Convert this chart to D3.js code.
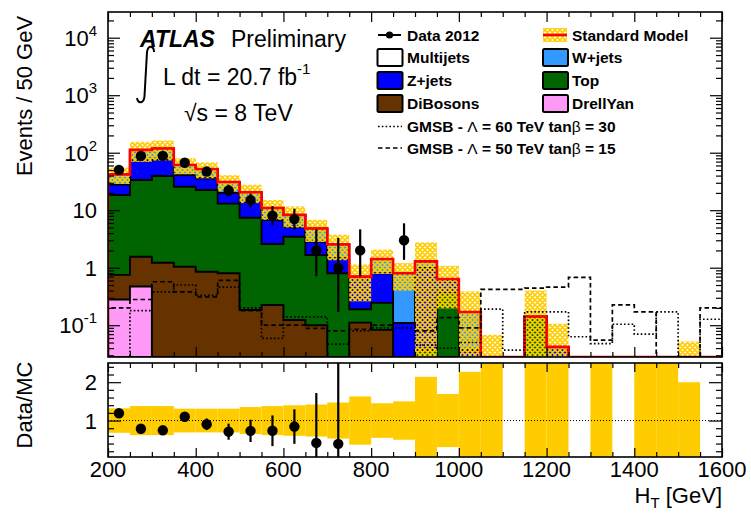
<!DOCTYPE html>
<html>
<head>
<meta charset="utf-8">
<script src="https://cdn.jsdelivr.net/npm/d3@7"></script>
<style>
  html, body { margin: 0; padding: 0; background: #fff; }
  svg { display: block; font-family: "Liberation Sans", Arial, Helvetica, sans-serif; }
</style>
</head>
<body>
<svg id="chart" width="751" height="513"></svg>
<script>
// H_T distribution, 50 GeV bins from 200 to 1600 GeV
const binLow = [200, 250, 300, 350, 400, 450, 500, 550, 600, 650, 700, 750, 800, 850,
                900, 950, 1000, 1050, 1100, 1150, 1200, 1250, 1300, 1350, 1400, 1450, 1500, 1550];
const binWidth = 50;

// Background processes (events per bin), stacked bottom to top
const drellYan  = [0.28, 0.47, 0, 0, 0, 0, 0, 0, 0, 0, 0, 0, 0, 0, 0, 0, 0, 0, 0, 0, 0, 0, 0, 0, 0, 0, 0, 0];
const diBosons  = [0.47, 1.08, 1.22, 1.04, 0.85, 0.80, 0.184, 0.225, 0.123, 0.10, 0, 0.111, 0.083, 0,
                   0, 0, 0, 0, 0, 0, 0, 0, 0, 0, 0, 0, 0, 0];
const topQuark  = [17.65, 31.95, 38.2, 24.56, 21.65, 12.2, 7.22, 2.355, 3.34, 1.56, 0.8, 0.079, 0.162, 0,
                   0.037, 0.36, 0, 0, 0, 0.142, 0, 0, 0, 0, 0, 0, 0, 0];
const zJets     = [9.6, 40.5, 36.6, 15.4, 13.5, 7.0, 6.7, 4.17, 1.74, 1.17, 0.66, 0.51, 0.555, 0.11,
                   0.953, 0.276, 0.037, 0, 0, 0, 0.042, 0, 0, 0, 0, 0, 0, 0];
const wJets     = [14, 38, 42, 20, 16, 11, 6.4, 4.15, 3.1, 1.97, 1.09, 0, 0.62, 0.69,
                   0.3, 0, 0.133, 0.02, 0, 0, 0, 0, 0.005, 0, 0.005, 0.005, 0.026, 0];
const multijets = [0, 0, 0, 0, 0, 0, 0, 0, 0, 0, 0, 0, 0, 0, 0, 0, 0, 0, 0, 0, 0, 0, 0, 0, 0, 0, 0, 0];

// Total SM uncertainty (absolute, events per bin)
const smErr = [13.4, 42.6, 44.8, 18.9, 16.1, 9.6, 7.2, 4.1, 3.3, 2.0, 1.2, 0.44, 0.64, 0.4,
               1.47, 0.44, 0.216, 0.048, 0, 0.26, 0.064, 0, 0.01, 0, 0.01, 0.01, 0.026, 0];

// Data 2012 with asymmetric Poisson errors
const data        = [50, 88, 88, 67, 47, 22, 15, 8, 7, 2, 1, 2, 0, 3, 0, 0, 0, 0, 0, 0, 0, 0, 0, 0, 0, 0, 0, 0];
const dataErrDown = [7.0, 9.3, 9.3, 8.2, 6.8, 4.6, 3.8, 2.6, 2.4, 1.29, 0.83, 1.29, 0, 1.63, 0, 0, 0, 0, 0, 0, 0, 0, 0, 0, 0, 0, 0, 0];
const dataErrUp   = [8.1, 10.4, 10.4, 9.2, 7.9, 5.7, 4.4, 3.8, 3.6, 2.64, 2.30, 2.64, 0, 2.92, 0, 0, 0, 0, 0, 0, 0, 0, 0, 0, 0, 0, 0, 0];
// Data/MC uncertainty in the ratio panel
const ratioErr    = [0.05, 0.05, 0.05, 0.07, 0.15, 0.21, 0.29, 0.40, 0.45, 1.30, 2.20, 0, 0, 0, 0, 0, 0, 0, 0, 0, 0, 0, 0, 0, 0, 0, 0, 0];

// GMSB signal points (not stacked)
const gmsb60 = [0, 0.18, 0.38, 0.50, 0.33, 0.46, 0.20, 0.059, 0.14, 0.14, 0.047, 0.08, 0.09, 0.09,
                0.045, 0.04, 0.05, 0.19, 0.037, 0.17, 0.17, 0.063, 0.048, 0.104, 0.07, 0.17, 0, 0.127];
const gmsb50 = [0.20, 0.28, 0.57, 0.38, 0.31, 0.60, 0.18, 0.10, 0.10, 0.088, 0.08, 0.085, 0.10, 0.11,
                0.08, 0.135, 0.09, 0.42, 0.42, 0.44, 0.46, 0.68, 0.055, 0.225, 0.17, 0, 0, 0.20];

const yMajorTicks = [0.1, 1, 10, 100, 1000, 10000];
const xTickLabels = [200, 400, 600, 800, 1000, 1200, 1400, 1600];
const ratioTickLabels = [1, 2];

// ---------------------------------------------------------------------------
const svg = d3.select("#chart");
const FONT = '"Liberation Sans", Arial, Helvetica, sans-serif';
const C = {
  dy: "#ff99f7", db: "#663300", top: "#006400", z: "#0000ff", w: "#3399ff", mj: "#ffffff",
  band: "#ffcc00", sm: "#ff0000"
};

const xMin = 200, xMax = 1600;
const yMin = 0.028, yMax = 28000;
const x  = d3.scaleLinear().domain([xMin, xMax]).range([108, 722]);
const y  = d3.scaleLog().domain([yMin, yMax]).range([357, 12]);
const rMin = 0.05, rMax = 2.5;
const yr = d3.scaleLinear().domain([rMin, rMax]).range([457, 363]);

const yc = v => y(Math.min(Math.max(v, yMin), yMax));
const n = binLow.length;
const MARKER_R = 5.2;

// cumulative stack sums
const layers = [drellYan, diBosons, topQuark, zJets, wJets, multijets];
const layerColors = [C.dy, C.db, C.top, C.z, C.w, C.mj];
const cum = [];
layers.forEach((arr, k) => {
  cum.push(arr.map((v, i) => v + (k > 0 ? cum[k - 1][i] : 0)));
});
const sm = cum[cum.length - 1];

function stepPath(vals, closeBase) {
  const base = y.range()[0];
  let d = `M${x(binLow[0])},${base}`;
  vals.forEach((v, i) => {
    const yy = yc(v);
    d += `L${x(binLow[i])},${yy}L${x(binLow[i] + binWidth)},${yy}`;
  });
  d += `L${x(binLow[n - 1] + binWidth)},${base}`;
  if (closeBase) d += "Z";
  return d;
}

const defs = svg.append("defs");
const pat = defs.append("pattern").attr("id", "hatch").attr("patternUnits", "userSpaceOnUse")
  .attr("width", 5).attr("height", 5);
pat.append("path").attr("d", "M0,0L5,5M5,0L0,5M-1,1L1,-1M4,6L6,4M-1,4L1,6M4,-1L6,1")
  .attr("stroke", C.band).attr("stroke-width", 1.7).attr("fill", "none");
defs.append("clipPath").attr("id", "clipMain").append("rect")
  .attr("x", 108).attr("y", 12).attr("width", 614).attr("height", 345);
defs.append("clipPath").attr("id", "clipRatio").append("rect")
  .attr("x", 108).attr("y", 363).attr("width", 614).attr("height", 94);

// ---------------- main panel ----------------
const gMain = svg.append("g").attr("clip-path", "url(#clipMain)");

for (let k = cum.length - 1; k >= 0; k--) {
  gMain.append("path").attr("d", stepPath(cum[k], true))
    .attr("fill", layerColors[k]).attr("stroke", "#000").attr("stroke-width", 1.9)
    .attr("stroke-linejoin", "miter");
}

// uncertainty band
gMain.append("g").selectAll("rect").data(binLow.map((b, i) => i).filter(i => smErr[i] > 0))
  .join("rect")
  .attr("x", i => x(binLow[i])).attr("width", i => x(binLow[i] + binWidth) - x(binLow[i]))
  .attr("y", i => yc(sm[i] + smErr[i]))
  .attr("height", i => yc(sm[i] - smErr[i]) - yc(sm[i] + smErr[i]))
  .attr("fill", "url(#hatch)");

// SM total
gMain.append("path").attr("d", stepPath(sm, false))
  .attr("fill", "none").attr("stroke", C.sm).attr("stroke-width", 2.6);

// signals
gMain.append("path").attr("d", stepPath(gmsb60, false))
  .attr("fill", "none").attr("stroke", "#000").attr("stroke-width", 1.7).attr("stroke-dasharray", "1.6,2.2");
gMain.append("path").attr("d", stepPath(gmsb50, false))
  .attr("fill", "none").attr("stroke", "#000").attr("stroke-width", 1.7).attr("stroke-dasharray", "4.5,3");

// data
const dataIdx = binLow.map((b, i) => i).filter(i => data[i] > 0);
const gData = gMain.append("g");
gData.selectAll("line").data(dataIdx).join("line")
  .attr("x1", i => x(binLow[i] + binWidth / 2)).attr("x2", i => x(binLow[i] + binWidth / 2))
  .attr("y1", i => yc(data[i] + dataErrUp[i])).attr("y2", i => yc(data[i] - dataErrDown[i]))
  .attr("stroke", "#000").attr("stroke-width", 2.2);
gData.selectAll("circle").data(dataIdx).join("circle")
  .attr("cx", i => x(binLow[i] + binWidth / 2)).attr("cy", i => yc(data[i]))
  .attr("r", MARKER_R).attr("fill", "#000");

// ---------------- ratio panel ----------------
const gRatio = svg.append("g").attr("clip-path", "url(#clipRatio)");
const rc = v => yr(Math.min(Math.max(v, rMin), rMax));
gRatio.append("g").selectAll("rect").data(binLow.map((b, i) => i).filter(i => sm[i] > 0 && smErr[i] > 0))
  .join("rect")
  .attr("x", i => x(binLow[i])).attr("width", i => x(binLow[i] + binWidth) - x(binLow[i]))
  .attr("y", i => rc(1 + smErr[i] / sm[i]))
  .attr("height", i => rc(1 - smErr[i] / sm[i]) - rc(1 + smErr[i] / sm[i]))
  .attr("fill", C.band);
gRatio.append("line").attr("x1", 108).attr("x2", 722).attr("y1", yr(1)).attr("y2", yr(1))
  .attr("stroke", "#000").attr("stroke-width", 1).attr("stroke-dasharray", "1,2");

const ratioIdx = dataIdx.filter(i => sm[i] > 0 && data[i] / sm[i] <= rMax && data[i] / sm[i] >= rMin);
gRatio.selectAll("line.err").data(ratioIdx).join("line").attr("class", "err")
  .attr("x1", i => x(binLow[i] + binWidth / 2)).attr("x2", i => x(binLow[i] + binWidth / 2))
  .attr("y1", i => rc(data[i] / sm[i] + ratioErr[i])).attr("y2", i => rc(data[i] / sm[i] - ratioErr[i]))
  .attr("stroke", "#000").attr("stroke-width", 2.2);
gRatio.selectAll("circle").data(ratioIdx).join("circle")
  .attr("cx", i => x(binLow[i] + binWidth / 2)).attr("cy", i => yr(data[i] / sm[i]))
  .attr("r", MARKER_R).attr("fill", "#000");

// ---------------- axes & frames ----------------
const logMinor = [];
for (let e = -2; e <= 4; e++) for (let k = 2; k <= 9; k++) {
  const v = k * Math.pow(10, e);
  if (v > yMin && v < yMax) logMinor.push(v);
}
const xMinor = d3.range(xMin, xMax + 1, 50).filter(v => xTickLabels.indexOf(v) < 0);
const rMinor = d3.range(0.2, 2.45, 0.2).filter(v => Math.abs(v - 1) > 0.01 && Math.abs(v - 2) > 0.01);

function ticks(g, axis) {
  g.call(axis.tickFormat("").tickSizeOuter(0));
  g.select(".domain").remove();
  g.selectAll("line").attr("stroke", "#000").attr("stroke-width", 1.2);
}
// main panel
ticks(svg.append("g").attr("transform", "translate(108,0)"), d3.axisLeft(y).tickValues(yMajorTicks).tickSize(-12));
ticks(svg.append("g").attr("transform", "translate(108,0)"), d3.axisLeft(y).tickValues(logMinor).tickSize(-6));
ticks(svg.append("g").attr("transform", "translate(722,0)"), d3.axisRight(y).tickValues(yMajorTicks).tickSize(-12));
ticks(svg.append("g").attr("transform", "translate(722,0)"), d3.axisRight(y).tickValues(logMinor).tickSize(-6));
ticks(svg.append("g").attr("transform", "translate(0,357)"), d3.axisBottom(x).tickValues(xTickLabels).tickSize(-10));
ticks(svg.append("g").attr("transform", "translate(0,357)"), d3.axisBottom(x).tickValues(xMinor).tickSize(-5));
ticks(svg.append("g").attr("transform", "translate(0,12)"), d3.axisTop(x).tickValues(xTickLabels).tickSize(-10));
ticks(svg.append("g").attr("transform", "translate(0,12)"), d3.axisTop(x).tickValues(xMinor).tickSize(-5));
// ratio panel
ticks(svg.append("g").attr("transform", "translate(108,0)"), d3.axisLeft(yr).tickValues(ratioTickLabels).tickSize(-13));
ticks(svg.append("g").attr("transform", "translate(108,0)"), d3.axisLeft(yr).tickValues(rMinor).tickSize(-6));
ticks(svg.append("g").attr("transform", "translate(722,0)"), d3.axisRight(yr).tickValues(ratioTickLabels).tickSize(-13));
ticks(svg.append("g").attr("transform", "translate(722,0)"), d3.axisRight(yr).tickValues(rMinor).tickSize(-6));
ticks(svg.append("g").attr("transform", "translate(0,457)"), d3.axisBottom(x).tickValues(xTickLabels).tickSize(-9));
ticks(svg.append("g").attr("transform", "translate(0,457)"), d3.axisBottom(x).tickValues(xMinor).tickSize(-5));
ticks(svg.append("g").attr("transform", "translate(0,363)"), d3.axisTop(x).tickValues(xTickLabels).tickSize(-9));
ticks(svg.append("g").attr("transform", "translate(0,363)"), d3.axisTop(x).tickValues(xMinor).tickSize(-5));

svg.append("rect").attr("x", 108).attr("y", 12).attr("width", 614).attr("height", 345)
  .attr("fill", "none").attr("stroke", "#000").attr("stroke-width", 1.6);
svg.append("rect").attr("x", 108).attr("y", 363).attr("width", 614).attr("height", 94)
  .attr("fill", "none").attr("stroke", "#000").attr("stroke-width", 1.6);

// tick labels
const lab = svg.append("g").attr("font-family", FONT).attr("fill", "#000");
yMajorTicks.forEach(v => {
  const e = Math.round(Math.log10(v));
  const t = lab.append("text").attr("x", 97).attr("y", y(v) + 8).attr("text-anchor", "end").attr("font-size", 22);
  if (e === 0) t.text("1");
  else if (e === 1) t.text("10");
  else {
    t.append("tspan").text("10");
    t.append("tspan").attr("font-size", 15).attr("dy", -10).text(String(e));
  }
});
ratioTickLabels.forEach(v => {
  lab.append("text").attr("x", 97).attr("y", yr(v) + 8).attr("text-anchor", "end")
    .attr("font-size", 22).text(String(v));
});
xTickLabels.forEach(v => {
  lab.append("text").attr("x", x(v)).attr("y", 477).attr("text-anchor", "middle")
    .attr("font-size", 22).text(String(v));
});

// axis titles
const ht = lab.append("text").attr("x", 722).attr("y", 503).attr("text-anchor", "end").attr("font-size", 22);
ht.append("tspan").text("H");
ht.append("tspan").attr("font-size", 15).attr("dy", 5).text("T");
ht.append("tspan").attr("dy", -5).text(" [GeV]");
lab.append("text").attr("transform", "translate(32,96) rotate(-90)").attr("text-anchor", "middle")
  .attr("font-size", 22).text("Events / 50 GeV");
lab.append("text").attr("transform", "translate(32,405) rotate(-90)").attr("text-anchor", "middle")
  .attr("font-size", 22).text("Data/MC");

// ATLAS label block
lab.append("text").attr("x", 140).attr("y", 47).attr("font-size", 23)
  .attr("font-weight", "bold").attr("font-style", "italic").text("ATLAS");
lab.append("text").attr("x", 231).attr("y", 47).attr("font-size", 23).text("Preliminary");
svg.append("path").attr("d", "M154,52 C154,46 148,44 147,52 L144.5,96 C144,104 138,104 137,98")
  .attr("fill", "none").attr("stroke", "#000").attr("stroke-width", 2);
const lumi = lab.append("text").attr("x", 163).attr("y", 85).attr("font-size", 23);
lumi.append("tspan").text("L dt = 20.7 fb");
lumi.append("tspan").attr("font-size", 15).attr("dy", -11).text("-1");
lab.append("text").attr("x", 184).attr("y", 121).attr("font-size", 23).text("\u221As = 8 TeV");

// legend
const leg = svg.append("g").attr("font-family", FONT).attr("font-weight", "bold").attr("font-size", 15.5);
const rowsY = [35, 57.5, 80.5, 103.5, 126.5, 148];
function legBox(cx, cy, color) {
  leg.append("rect").attr("x", cx).attr("y", cy - 8.5).attr("width", 25).attr("height", 17).attr("rx", 1.5)
    .attr("fill", color).attr("stroke", "#000").attr("stroke-width", 2);
}
function legText(tx, cy, txt) {
  leg.append("text").attr("x", tx).attr("y", cy + 5.6).text(txt);
}
// Data
leg.append("line").attr("x1", 378).attr("x2", 401).attr("y1", rowsY[0]).attr("y2", rowsY[0])
  .attr("stroke", "#000").attr("stroke-width", 2);
leg.append("circle").attr("cx", 389.5).attr("cy", rowsY[0]).attr("r", 3.6).attr("fill", "#000");
legText(407, rowsY[0], "Data 2012");
// Standard Model
leg.append("rect").attr("x", 543).attr("y", rowsY[0] - 7).attr("width", 24).attr("height", 14).attr("fill", "url(#hatch)");
leg.append("line").attr("x1", 543).attr("x2", 567).attr("y1", rowsY[0]).attr("y2", rowsY[0])
  .attr("stroke", C.sm).attr("stroke-width", 2.6);
legText(572, rowsY[0], "Standard Model");
legBox(377.5, rowsY[1], C.mj);  legText(407, rowsY[1], "Multijets");
legBox(543, rowsY[1], C.w);     legText(572, rowsY[1], "W+jets");
legBox(377.5, rowsY[2], C.z);   legText(407, rowsY[2], "Z+jets");
legBox(543, rowsY[2], C.top);   legText(572, rowsY[2], "Top");
legBox(377.5, rowsY[3], C.db);  legText(407, rowsY[3], "DiBosons");
legBox(543, rowsY[3], C.dy);    legText(572, rowsY[3], "DrellYan");
// GMSB
leg.append("line").attr("x1", 378).attr("x2", 402).attr("y1", rowsY[4]).attr("y2", rowsY[4])
  .attr("stroke", "#000").attr("stroke-width", 1.7).attr("stroke-dasharray", "1.6,2.2");
leg.append("line").attr("x1", 378).attr("x2", 402).attr("y1", rowsY[5]).attr("y2", rowsY[5])
  .attr("stroke", "#000").attr("stroke-width", 1.7).attr("stroke-dasharray", "4.5,3");
function gmsbText(cy, lam, tb) {
  const t = leg.append("text").attr("x", 407).attr("y", cy + 5.6);
  t.append("tspan").text("GMSB - ");
  t.append("tspan").attr("font-weight", "normal").text("\u039B");
  t.append("tspan").text(` = ${lam} TeV tan`);
  t.append("tspan").attr("font-weight", "normal").text("\u03B2");
  t.append("tspan").text(` = ${tb}`);
}
gmsbText(rowsY[4], 60, 30);
gmsbText(rowsY[5], 50, 15);
</script>
</body>
</html>
